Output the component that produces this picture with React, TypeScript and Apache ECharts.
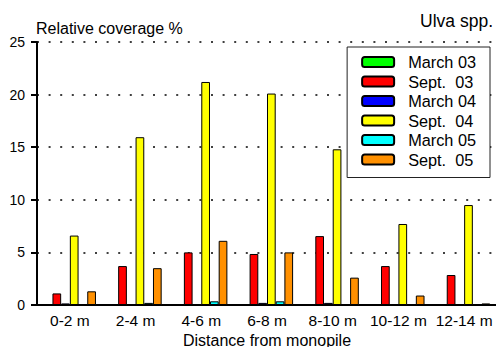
import React, { useEffect, useRef } from "react";
import * as echarts from "echarts";

const categories = ["0-2 m", "2-4 m", "4-6 m", "6-8 m", "8-10 m", "10-12 m", "12-14 m"];
const seriesNames = ["March 03", "Sept.  03", "March 04", "Sept.  04", "March 05", "Sept.  05"];
const march03 = [0, 0, 0, 0, 0, 0, 0];
const sept03 = [1.1, 3.7, 5.0, 4.85, 6.55, 3.7, 2.85];
const march04 = [0.15, 0.05, 0.05, 0.2, 0.2, 0.05, 0.05];
const sept04 = [6.6, 15.95, 21.2, 20.1, 14.8, 7.7, 9.5];
const march05 = [0.05, 0.2, 0.35, 0.35, 0, 0, 0];
const sept05 = [1.3, 3.5, 6.1, 5.0, 2.6, 0.9, 0.15];
const yTicks = [0, 5, 10, 15, 20, 25];
const colors = ["#00ff00", "#ff0000", "#0000ff", "#ffff00", "#00ffff", "#ff9000"];

const FONT = "'Liberation Sans', Arial, sans-serif";

export default function App() {
  const ref = useRef<HTMLDivElement>(null);
  useEffect(() => {
    if (!ref.current) return;
    const chart = echarts.init(ref.current, undefined, { renderer: "svg" });
    const data = [march03, sept03, march04, sept04, march05, sept05];
    chart.setOption({
      animation: false,
      backgroundColor: "#fff",
      textStyle: { fontFamily: FONT, color: "#000" },
      title: [
        {
          text: "Relative coverage %",
          left: 36,
          top: 20,
          padding: 0,
          textStyle: { fontFamily: FONT, fontSize: 16, fontWeight: "normal", color: "#000" },
        },
        {
          text: "Ulva spp.",
          right: 3,
          top: 12,
          padding: 0,
          textStyle: { fontFamily: FONT, fontSize: 17.5, fontWeight: "normal", color: "#000" },
        },
      ],
      legend: {
        orient: "vertical",
        right: 6,
        top: 47,
        padding: [7, 14, 10, 14],
        itemWidth: 32,
        itemHeight: 10,
        itemGap: 3.5,
        backgroundColor: "#fff",
        borderColor: "#222",
        borderWidth: 1,
        data: seriesNames,
        textStyle: { fontFamily: FONT, fontSize: 16.3, color: "#000", padding: [0, 0, 0, 9] },
      },
      grid: { left: 37, top: 42, width: 460, bottom: 42, containLabel: false, outerBoundsMode: "none" },
      xAxis: {
        type: "category",
        data: categories,
        name: "Distance from monopile",
        nameLocation: "middle",
        nameGap: 24,
        nameTextStyle: { fontFamily: FONT, fontSize: 16, color: "#000" },
        axisLine: { show: true, lineStyle: { color: "#000", width: 2 } },
        axisTick: { show: false },
        axisLabel: { fontFamily: FONT, fontSize: 15.5, color: "#000", margin: 7, interval: 0 },
      },
      yAxis: {
        type: "value",
        min: 0,
        max: 25,
        interval: 5,
        axisLine: { show: true, lineStyle: { color: "#000", width: 2 } },
        axisTick: { show: true, length: 6, lineStyle: { color: "#000", width: 2 } },
        axisLabel: {
          fontFamily: FONT,
          fontSize: 14,
          color: "#000",
          margin: 12,
          formatter: (v: number) => (yTicks.includes(v) ? String(v) : ""),
        },
        splitLine: { show: true, lineStyle: { color: "#000", width: 1.5, type: [2, 9.6] } },
      },
      series: data.map((d, i) => ({
        name: seriesNames[i],
        type: "bar",
        data: d,
        barWidth: 8.7,
        barGap: "0%",
        itemStyle: { color: colors[i], borderColor: "#000", borderWidth: 1 },
      })),
    });
    return () => chart.dispose();
  }, []);
  return (
    <div
      ref={ref}
      style={{ position: "fixed", left: 0, top: 0, width: 496, height: 347, overflow: "hidden" }}
    />
  );
}
